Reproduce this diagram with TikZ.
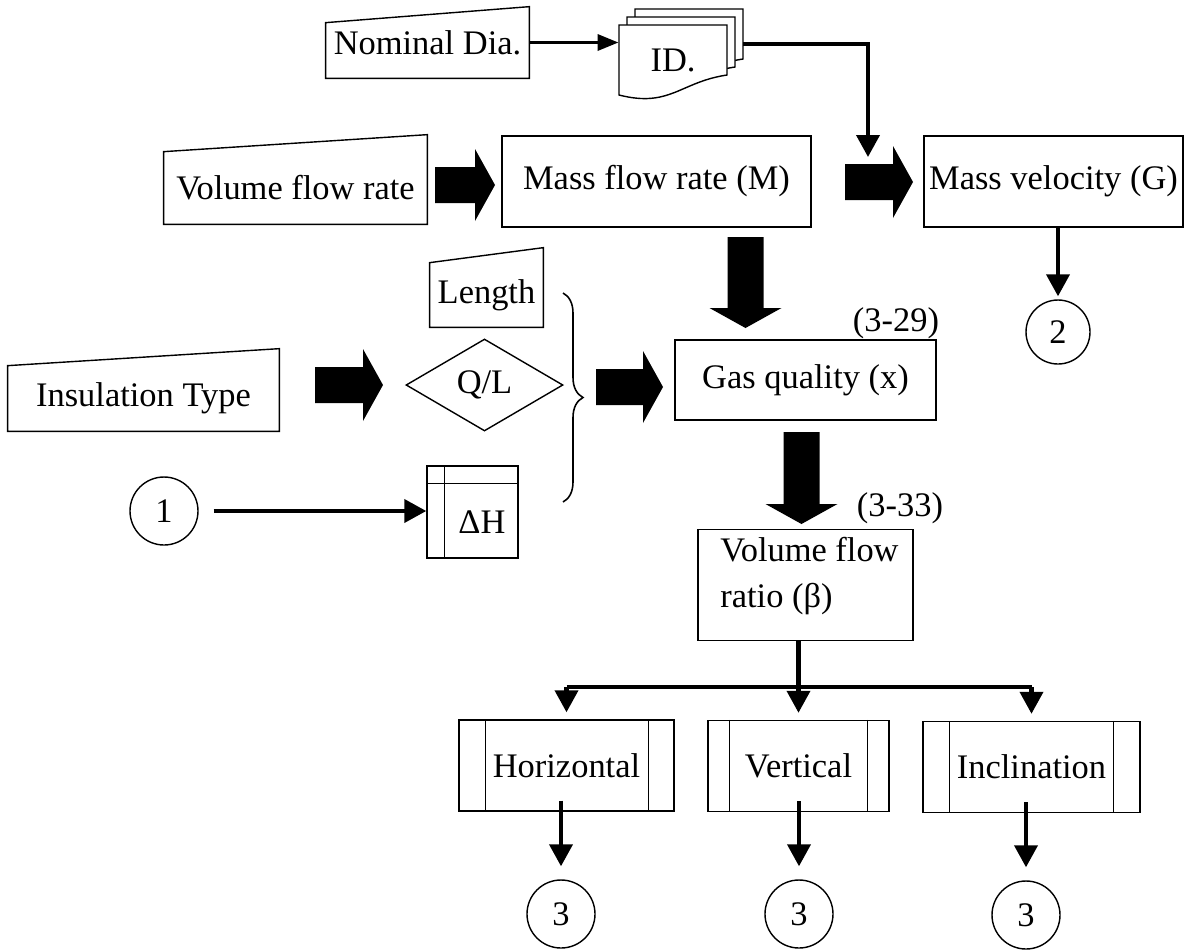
\documentclass[tikz,border=0pt]{standalone}
\usepackage{fontspec}
\setmainfont{Liberation Serif}
\usetikzlibrary{shapes.geometric,arrows.meta,decorations.pathreplacing,calc}
\newcommand{\manin}[2]{\draw[line width=0.8pt] (#1.south west) -- (#1.south east) -- (#1.north east) -- ([yshift=-#2*0.02cm]#1.north west) -- cycle;}
\newcommand{\maninup}[2]{\draw[line width=0.8pt] (#1.south west) -- (#1.south east) -- ([yshift=#2*0.02cm]#1.north east) -- (#1.north west) -- cycle;}
\newcommand{\fatarrow}[4]{\fill[shift={(#1,#2)},rotate=#4] (0,-18) -- (#3-20,-18) -- (#3-20,-36) -- (#3,0) -- (#3-20,36) -- (#3-20,18) -- (0,18) -- cycle;}
\newcommand{\predef}[3]{\draw[line width=0.8pt] ([xshift=#2*0.02cm]#1.north west) -- ([xshift=#2*0.02cm]#1.south west) ([xshift=-#3*0.02cm]#1.north east) -- ([xshift=-#3*0.02cm]#1.south east);}
\begin{document}
\begin{tikzpicture}[x=0.02cm,y=-0.02cm,
  txt/.style={font=\fontsize{19.6}{26.5}\selectfont, inner sep=0pt},
  sz/.style 2 args={minimum width=#1*0.02cm, minimum height=#2*0.02cm},
  box/.style={txt, draw, line width=0.8pt, rectangle},
  plain/.style={txt, rectangle},
  circ/.style={txt, draw, circle, line width=0.8pt, minimum size=68*0.02cm},
  conn/.style={line width=2.4pt, -{Triangle[length=12.5pt,width=13pt]}},
  conns/.style={line width=2.2pt, -{Triangle[length=12pt,width=9pt]}},
  bline/.style={line width=2.6pt}
]
\useasboundingbox (0,0) rectangle (1194,951);

% ---- ID multi-document
\foreach \k in {2,1} {
  \draw[line width=0.8pt, fill=white, shift={(8*\k,-8*\k)}]
    (619,25) -- (727,25) -- (727,75) .. controls (680,82) and (670,108) .. (619,95) -- cycle;
}
\draw[line width=0.8pt, fill=white]
  (619,25) -- (727,25) -- (727,75) .. controls (680,82) and (670,108) .. (619,95) -- cycle;
\node[plain, sz={108}{70}] (id) at (673,60) {ID.};

% ---- manual inputs
\node[plain, sz={203}{71}] (nom) at (427.5,42.5) {Nominal Dia.};
\manin{nom}{16}
\node[plain, sz={263}{72}] (vfr) at (295.5,188) {Volume flow rate};
\maninup{vfr}{17}
\node[plain, sz={113}{64}] (len) at (486.5,295) {Length};
\maninup{len}{15}
\node[plain, sz={271}{65}] (ins) at (143.5,398.5) {Insulation Type};
\maninup{ins}{17}

% ---- process boxes
\node[box, sz={309}{91}] (mfr) at (656.5,181.5) {Mass flow rate (M)};
\node[box, sz={259}{91}] (mv) at (1053.5,181.5) {Mass velocity (G)};
\node[box, sz={261}{80}] (gq) at (805.5,380) {Gas quality (x)};
\node[txt] (l329) at (896,323) {(3-29)};
\node[box, sz={215}{111}] (vr) at (805.5,585) {};
\node[txt, anchor=west, align=left] (vrt) at (720,576) {Volume flow\\ratio (β)};
\node[txt] (l333) at (900,508) {(3-33)};

% ---- decision and storage
\node[txt, draw, diamond, line width=0.8pt, sz={157}{92}] (ql) at (484.5,385) {Q/L};
\node[box, sz={91}{92}] (dh) at (472.5,512) {};
\draw[line width=0.8pt] ([xshift=18*0.02cm]dh.north west) -- ([xshift=18*0.02cm]dh.south west)
  ([yshift=-18*0.02cm]dh.north west) -- ([yshift=-18*0.02cm]dh.north east);
\node[txt] (dht) at (482,522) {ΔH};

% ---- brace
\draw[line width=0.9pt, decorate, decoration={brace, amplitude=20*0.02cm}] (563,293) -- (563,502);

% ---- connectors (circles)
\node[circ] (c1) at (164,511) {1};
\node[circ, minimum size=64*0.02cm] (c2) at (1058,332) {2};

% ---- predefined process boxes
\node[box, sz={215}{91}] (hor) at (566.5,765.5) {Horizontal};
\predef{hor}{27}{26}
\node[box, sz={181}{91}] (ver) at (798.5,766) {Vertical};
\predef{ver}{22}{22}
\node[box, sz={217}{91}] (inc) at (1031.5,767) {Inclination};
\predef{inc}{27}{27}

\node[circ] (c3a) at (561,914) {3};
\node[circ] (c3b) at (799,914) {3};
\node[circ] (c3c) at (1026,915) {3};

% ---- fat arrows
\fatarrow{435}{185}{60}{0}
\fatarrow{845}{182}{68}{0}
\fatarrow{315}{385}{68}{0}
\fatarrow{596}{387}{67}{0}
\fatarrow{745.5}{237}{91}{-90}
\fatarrow{801.5}{432}{92}{-90}

% ---- thin connectors
\draw[conns] (nom.east) -- (nom.east -| id.west);
\coordinate (idr) at (743,44);
\coordinate (gtip) at (868,157);
\draw[conn] (idr) -| (gtip);
\draw[conn, shorten <=15*0.02cm] (c1.east) -- (c1.east -| dh.west);
\draw[conn, shorten >=3*0.02cm] (mv.south -| c2.north) -- (c2.north);

\coordinate (br) at ($(vr.south)+(0,46)$);
\draw[conn, shorten >=7*0.02cm] (ver.north |- vr.south) -- (ver.north);
\draw[bline] (hor.north |- br) -- (inc.north |- br);
\draw[conn, shorten >=7*0.02cm] (hor.north |- br) -- (hor.north);
\draw[conn, shorten >=7*0.02cm] (inc.north |- br) -- (inc.north);

\draw[conn, shorten >=13*0.02cm] ($(c3a.north |- hor.south)+(0,-11)$) -- (c3a.north);
\draw[conn, shorten >=13*0.02cm] ($(c3b.north |- ver.south)+(0,-11)$) -- (c3b.north);
\draw[conn, shorten >=13*0.02cm] ($(c3c.north |- inc.south)+(0,-11)$) -- (c3c.north);
\end{tikzpicture}
\end{document}
